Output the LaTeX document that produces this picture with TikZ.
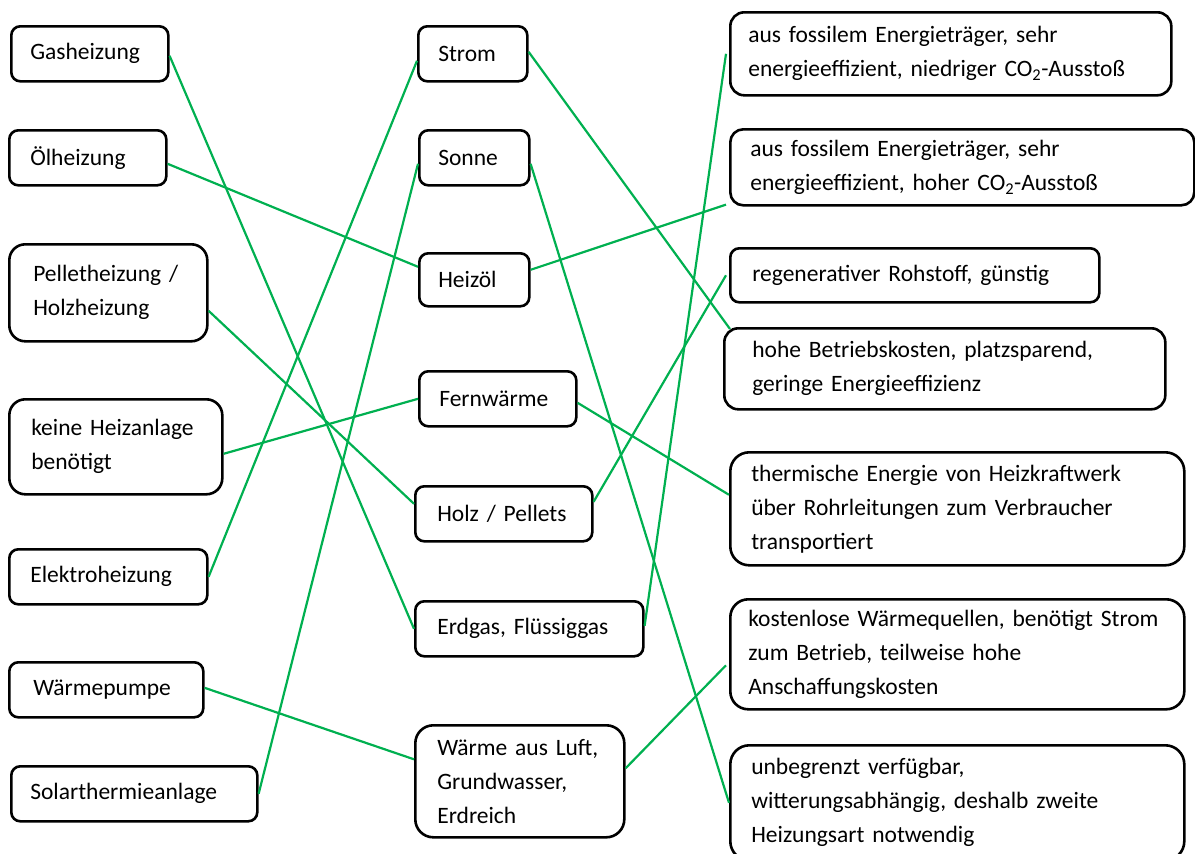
\documentclass[tikz,border=0pt]{standalone}
\usepackage{fontspec}
\setmainfont{Carlito}
\definecolor{linkgreen}{RGB}{0,176,80}

\begin{document}
\begin{tikzpicture}[x=1pt, y=-1pt,
    every node/.style={font=\fontsize{23.5}{34}\selectfont},
    box/.style={draw, line width=2.6pt, rounded corners=#1, anchor=north west,
      align=left, inner ysep=0pt},
    box/.default=9pt,
    link/.style={draw=linkgreen, line width=2.2pt}]

  \useasboundingbox (0,0) rectangle (1195,854);

  \node[box, inner xsep=19pt, text width=119pt, minimum height=55pt] (gasheizung) at (10,25) {Gasheizung};
  \node[box, inner xsep=21pt, text width=115pt, minimum height=55pt] (oelheizung) at (8,129) {Ölheizung};
  \node[box=16pt, inner xsep=24pt, text width=150pt, minimum height=97pt] (pelletheizung) at (8,243) {Pelletheizung /\\Holzheizung};
  \node[box=16pt, inner xsep=22pt, text width=169pt, minimum height=95pt] (keineanlage) at (8,398) {keine Heizanlage\\benötigt};
  \node[box, inner xsep=21pt, text width=156pt, minimum height=55pt] (elektroheizung) at (8,548) {Elektroheizung};
  \node[box, inner xsep=24pt, text width=146pt, minimum height=55pt] (waermepumpe) at (8,661) {Wärmepumpe};
  \node[box, inner xsep=19pt, text width=208pt, minimum height=55pt] (solaranlage) at (10,765) {Solarthermieanlage};

  \node[box, inner xsep=20pt, text width=69pt, minimum height=55pt] (strom) at (417,25) {Strom};
  \node[box, inner xsep=19pt, text width=72pt, minimum height=55pt] (sonne) at (418,129) {Sonne};
  \node[box, inner xsep=19pt, text width=72pt, minimum height=53pt] (heizoel) at (418,252) {Heizöl};
  \node[box, inner xsep=20pt, text width=117pt, minimum height=55pt] (fernwaerme) at (418,370) {Fernwärme};
  \node[box, inner xsep=22pt, text width=133pt, minimum height=55pt] (holz) at (414,485) {Holz / Pellets};
  \node[box, inner xsep=22pt, text width=184pt, minimum height=55pt] (erdgas) at (414,600) {Erdgas, Flüssiggas};
  \node[box=18pt, inner xsep=22pt, text width=165pt, minimum height=112pt] (umwelt) at (414,724) {Wärme aus Luft,\\Grundwasser,\\Erdreich};

  \node[box=14pt, inner xsep=18pt, text width=405pt, minimum height=83pt] (fossilniedrig) at (729,11)
    {aus fossilem Energieträger, sehr\\energieeffizient, niedriger CO\textsubscript{2}-Ausstoß};
  \node[box=13pt, inner xsep=20pt, text width=424pt, minimum height=76pt] (fossilhoch) at (729,128)
    {aus fossilem Energieträger, sehr\\energieeffizient, hoher CO\textsubscript{2}-Ausstoß};
  \node[box, inner xsep=22pt, text width=325pt, minimum height=54pt] (regenerativ) at (729,247)
    {regenerativer Rohstoff, günstig};
  \node[box=14pt, inner xsep=28pt, text width=385pt, minimum height=81pt] (betriebskosten) at (723,327)
    {hohe Betriebskosten, platzsparend,\\geringe Energieeffizienz};
  \node[box=19pt, inner xsep=21pt, text width=412pt, minimum height=113pt] (heizkraftwerk) at (729,451)
    {thermische Energie von Heizkraftwerk\\über Rohrleitungen zum Verbraucher\\transportiert};
  \node[box=18pt, inner xsep=18pt, text width=418pt, minimum height=110pt] (waermequellen) at (729,598)
    {kostenlose Wärmequellen, benötigt Strom\\zum Betrieb, teilweise hohe\\Anschaffungskosten};
  \node[box=19pt, inner xsep=21pt, text width=412pt, minimum height=115pt] (unbegrenzt) at (729,744)
    {unbegrenzt verfügbar,\\witterungsabhängig, deshalb zweite\\Heizungsart notwendig};

  \draw[link] ([yshift=-2pt]gasheizung.east) -- (erdgas.west);
  \draw[link] ([yshift=-6pt]oelheizung.east) -- ([yshift=13pt]heizoel.west);
  \draw[link] ([yshift=-18pt]pelletheizung.east) -- ([yshift=10pt]holz.west);
  \draw[link] ([yshift=-7pt]keineanlage.east) -- (fernwaerme.west);
  \draw[link] (elektroheizung.east) -- ([yshift=-7pt]strom.west);
  \draw[link] ([yshift=2pt]waermepumpe.east) -- ([yshift=22pt]umwelt.west);
  \draw[link] (solaranlage.east) -- ([yshift=-6pt]sonne.west);

  \draw[link] ([yshift=2pt]strom.east) -- ([xshift=7pt,yshift=-2pt]betriebskosten.north west);
  \draw[link] ([yshift=-6pt]sonne.east) -- (unbegrenzt.west);
  \draw[link] ([yshift=10pt]heizoel.east) -- ([xshift=-3pt,yshift=2pt]fossilhoch.south west);
  \draw[link] ([yshift=-4pt]fernwaerme.east) -- ([yshift=14pt]heizkraftwerk.west);
  \draw[link] ([yshift=12pt]holz.east) -- ([xshift=-3pt]regenerativ.west);
  \draw[link] ([yshift=3pt]erdgas.east) -- ([xshift=-3pt]fossilniedrig.west);
  \draw[link] ([yshift=13pt]umwelt.east) -- ([xshift=-3pt,yshift=-11pt]waermequellen.west);
\end{tikzpicture}
\end{document}
